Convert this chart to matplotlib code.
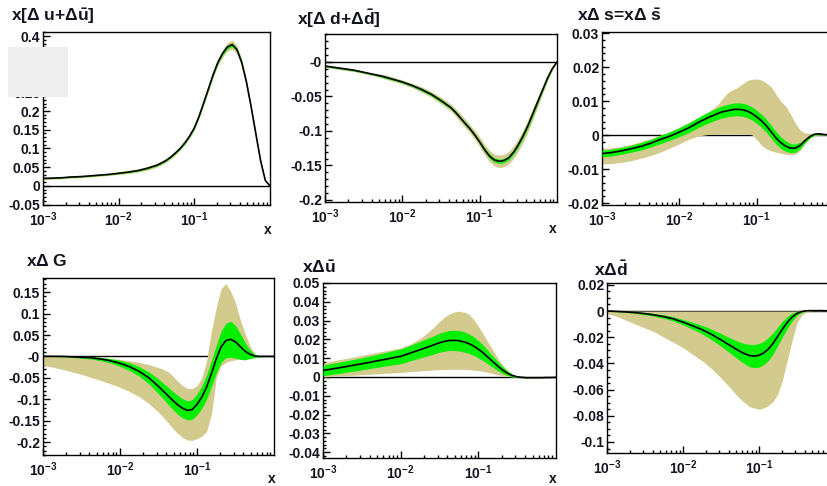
import numpy as np
import matplotlib
matplotlib.use("Agg")
import matplotlib.pyplot as plt
from matplotlib.ticker import FixedLocator, MultipleLocator, LogLocator, NullFormatter
from matplotlib.patches import Rectangle

plt.rcParams['font.family'] = ['Liberation Sans', 'DejaVu Sans']
plt.rcParams['font.weight'] = 'bold'
plt.rcParams['mathtext.fontset'] = 'custom'
plt.rcParams['mathtext.rm'] = 'Liberation Sans:bold'
plt.rcParams['mathtext.it'] = 'Liberation Sans:bold'
plt.rcParams['mathtext.bf'] = 'Liberation Sans:bold'

#======================== data ========================
x = [0.001, 0.00133, 0.00178, 0.00237, 0.00316, 0.00422, 0.00562, 0.0075, 0.01, 0.0133, 0.0178, 0.0237, 0.0316,
     0.0365, 0.0422, 0.0487, 0.0562, 0.0649, 0.075, 0.0866,
     0.1, 0.1155, 0.133, 0.154, 0.178, 0.205, 0.237, 0.274, 0.316, 0.365, 0.422, 0.487, 0.562, 0.649,
     0.75, 0.866, 1.0]

# x(Delta u + Delta ubar): central, green half-width, khaki half-width
c1 = [0.020, 0.021, 0.022, 0.024, 0.025, 0.027, 0.029, 0.031, 0.034, 0.037, 0.041, 0.047, 0.055,
      0.061, 0.068, 0.077, 0.088, 0.100, 0.115, 0.133,
      0.155, 0.186, 0.222, 0.260, 0.298, 0.330, 0.354, 0.371, 0.377, 0.364, 0.330, 0.278, 0.212, 0.140,
      0.068, 0.015, 0.0]
g1 = [0.001, 0.001, 0.001, 0.001, 0.001, 0.001, 0.001, 0.001, 0.0015, 0.0015, 0.002, 0.002, 0.002,
      0.002, 0.002, 0.002, 0.002, 0.002, 0.002, 0.002,
      0.0025, 0.0027, 0.003, 0.003, 0.003, 0.0035, 0.004, 0.0045, 0.005, 0.0045, 0.004, 0.0035, 0.003, 0.0025,
      0.002, 0.001, 0.0]
w1 = [0.003, 0.003, 0.003, 0.003, 0.003, 0.003, 0.003, 0.003, 0.003, 0.004, 0.004, 0.005, 0.005,
      0.005, 0.005, 0.005, 0.005, 0.005, 0.005, 0.0055,
      0.006, 0.0065, 0.007, 0.0075, 0.008, 0.009, 0.010, 0.011, 0.012, 0.011, 0.010, 0.0085, 0.007, 0.0055,
      0.004, 0.002, 0.0]

# x(Delta d + Delta dbar)
c2 = [-0.006, -0.008, -0.010, -0.012, -0.015, -0.018, -0.021, -0.025, -0.029, -0.034, -0.040, -0.047, -0.056,
      -0.061, -0.066, -0.073, -0.081, -0.089, -0.097, -0.106,
      -0.116, -0.127, -0.136, -0.142, -0.144, -0.143, -0.139, -0.131, -0.120, -0.107, -0.092, -0.075, -0.058,
      -0.041, -0.024, -0.010, 0.0]
g2 = [0.001, 0.001, 0.001, 0.001, 0.001, 0.001, 0.0015, 0.0015, 0.0015, 0.0015, 0.002, 0.002, 0.002,
      0.002, 0.002, 0.002, 0.002, 0.002, 0.002, 0.002,
      0.002, 0.0025, 0.003, 0.003, 0.003, 0.003, 0.003, 0.003, 0.003, 0.003, 0.003, 0.003, 0.0025,
      0.002, 0.002, 0.001, 0.0]
w2 = [0.002, 0.002, 0.002, 0.002, 0.002, 0.002, 0.003, 0.003, 0.003, 0.003, 0.004, 0.004, 0.005,
      0.005, 0.005, 0.0055, 0.006, 0.006, 0.006, 0.0065,
      0.007, 0.0075, 0.008, 0.0085, 0.009, 0.009, 0.009, 0.009, 0.009, 0.009, 0.009, 0.008, 0.007,
      0.0055, 0.004, 0.002, 0.0]

# x Delta s = x Delta sbar: central, green half-width, khaki low / high
c3 = [-0.0054, -0.0051, -0.0046, -0.0040, -0.0033, -0.0024, -0.0013, -0.0003, 0.0009, 0.0022, 0.0038,
      0.0052, 0.0064,
      0.0069, 0.0072, 0.0075, 0.0076, 0.0075, 0.0071, 0.0064,
      0.0054, 0.0042, 0.0028, 0.0010, -0.0008, -0.0022, -0.0032, -0.0038, -0.0038, -0.0030, -0.0016,
      -0.0004, 0.0003, 0.0004, 0.0002, 0.0001, 0.0]
g3 = [0.0010, 0.0010, 0.0010, 0.0010, 0.0011, 0.0011, 0.0012, 0.0012, 0.0013, 0.0014, 0.0015, 0.0016, 0.0017,
      0.0018, 0.0018, 0.0019, 0.0019, 0.0019, 0.0019, 0.0019,
      0.0019, 0.0019, 0.0019, 0.0019, 0.0018, 0.0017, 0.0015, 0.0013, 0.0012, 0.0009, 0.0006,
      0.0004, 0.0003, 0.0002, 0.0001, 0.0, 0.0]
lo3 = [-0.0085, -0.0083, -0.0080, -0.0075, -0.0068, -0.0060, -0.0050, -0.0038, -0.0025, -0.0012, -0.0002,
       0.0002, 0.0003,
       0.0003, 0.0004, 0.0004, 0.0005, 0.0004, 0.0003, 0.0001,
       -0.0012, -0.0030, -0.0040, -0.0046, -0.0050, -0.0053, -0.0056, -0.0057, -0.0056, -0.0045, -0.0025,
       -0.0010, -0.0001, 0.0, 0.0, 0.0, 0.0]
hi3 = [-0.0040, -0.0037, -0.0033, -0.0027, -0.0019, -0.0010, 0.0000, 0.0011, 0.0024, 0.0038, 0.0052,
       0.0068, 0.0090,
       0.0108, 0.0125, 0.0133, 0.0140, 0.0150, 0.0160, 0.0164,
       0.0165, 0.0162, 0.0154, 0.0142, 0.0120, 0.0100, 0.0085, 0.0062, 0.0035, 0.0015, 0.0006,
       0.0006, 0.0006, 0.0005, 0.0003, 0.0001, 0.0]

# x Delta G
c4 = [0.0, 0.0, 0.0, -0.001, -0.002, -0.003, -0.006, -0.010, -0.016, -0.024, -0.035, -0.050, -0.070,
      -0.081, -0.092, -0.103, -0.113, -0.121, -0.126, -0.124,
      -0.112, -0.095, -0.072, -0.040, -0.006, 0.022, 0.037, 0.040, 0.034, 0.023, 0.012,
      0.005, 0.001, 0.0, 0.0, 0.0, 0.0]
g4 = [0.0, 0.0, 0.001, 0.001, 0.002, 0.003, 0.004, 0.005, 0.007, 0.009, 0.011, 0.014, 0.017,
      0.018, 0.020, 0.021, 0.022, 0.022, 0.022, 0.023,
      0.024, 0.026, 0.028, 0.030, 0.032, 0.036, 0.040, 0.042, 0.038, 0.030, 0.020,
      0.010, 0.004, 0.001, 0.0, 0.0, 0.0]
lo4 = [-0.020, -0.025, -0.030, -0.036, -0.042, -0.049, -0.056, -0.064, -0.072, -0.082, -0.094, -0.110, -0.130,
       -0.142, -0.155, -0.168, -0.180, -0.189, -0.195, -0.196,
       -0.192, -0.186, -0.175, -0.135, -0.050, -0.022, -0.014, -0.010, -0.008, -0.005, -0.003,
       -0.001, 0.0, 0.0, 0.0, 0.0, 0.0]
hi4 = [0.0, 0.0, 0.0, 0.0, 0.0, 0.0, -0.002, -0.005, -0.007, -0.010, -0.014, -0.019, -0.026,
       -0.030, -0.036, -0.046, -0.058, -0.068, -0.075, -0.075,
       -0.068, -0.050, -0.010, 0.060, 0.115, 0.158, 0.170, 0.152, 0.125, 0.085, 0.053,
       0.025, 0.006, 0.001, 0.0, 0.0, 0.0]

# x Delta ubar
c5 = [0.0035, 0.0043, 0.0052, 0.0061, 0.0070, 0.0080, 0.0090, 0.0100, 0.0110, 0.0127, 0.0145, 0.0163, 0.0182,
      0.0189, 0.0194, 0.0195, 0.0193, 0.0187, 0.0178, 0.0165,
      0.0148, 0.0128, 0.0105, 0.0081, 0.0058, 0.0037, 0.0020, 0.0008, 0.0001, -0.0002, -0.0004,
      -0.0004, -0.0004, -0.0004, -0.0003, -0.0003, -0.0002]
g5 = [0.0028, 0.0029, 0.0030, 0.0031, 0.0032, 0.0033, 0.0035, 0.0037, 0.0039, 0.0041, 0.0044, 0.0047, 0.0050,
      0.0052, 0.0053, 0.0054, 0.0054, 0.0054, 0.0052, 0.0049,
      0.0046, 0.0041, 0.0036, 0.0030, 0.0024, 0.0018, 0.0012, 0.0007, 0.0004, 0.0002, 0.0001,
      0.0, 0.0, 0.0, 0.0, 0.0, 0.0]
lo5 = [0.0000, 0.0003, 0.0006, 0.0009, 0.0012, 0.0015, 0.0018, 0.0021, 0.0024, 0.0028, 0.0032, 0.0036, 0.0039,
       0.0040, 0.0041, 0.0041, 0.0041, 0.0040, 0.0039, 0.0037,
       0.0034, 0.0030, 0.0024, 0.0018, 0.0012, 0.0007, 0.0003, 0.0000, -0.0002, -0.0004, -0.0005,
       -0.0005, -0.0005, -0.0005, -0.0004, -0.0004, -0.0003]
hi5 = [0.0075, 0.0085, 0.0095, 0.0105, 0.0115, 0.0125, 0.0135, 0.0145, 0.0155, 0.0175, 0.0205, 0.0245, 0.0295,
       0.0318, 0.0335, 0.0346, 0.0350, 0.0346, 0.0335, 0.0307,
       0.0270, 0.0228, 0.0185, 0.0142, 0.0100, 0.0065, 0.0035, 0.0015, 0.0005, 0.0, 0.0,
       0.0, 0.0, 0.0, 0.0, 0.0, 0.0]

# x Delta dbar
c6 = [0.0, -0.0003, -0.0007, -0.0012, -0.0020, -0.0030, -0.0043, -0.0060, -0.0085, -0.0112, -0.0142,
      -0.0178, -0.0220,
      -0.0243, -0.0265, -0.0287, -0.0308, -0.0326, -0.0340, -0.0344,
      -0.0338, -0.0320, -0.0290, -0.0245, -0.0190, -0.0135, -0.0085, -0.0045, -0.0018, -0.0004, 0.0002,
      0.0003, 0.0003, 0.0003, 0.0002, 0.0002, 0.0001]
g6 = [0.0, 0.0002, 0.0004, 0.0006, 0.0008, 0.0010, 0.0013, 0.0016, 0.0020, 0.0026, 0.0032, 0.0040, 0.0048,
      0.0053, 0.0058, 0.0064, 0.0070, 0.0077, 0.0085, 0.0088,
      0.0090, 0.0089, 0.0087, 0.0080, 0.0070, 0.0058, 0.0045, 0.0030, 0.0015, 0.0006, 0.0002,
      0.0, 0.0, 0.0, 0.0, 0.0, 0.0]
lo6 = [-0.002, -0.004, -0.007, -0.010, -0.013, -0.016, -0.020, -0.024, -0.028, -0.033, -0.038, -0.044, -0.051,
       -0.055, -0.059, -0.063, -0.067, -0.070, -0.073, -0.074,
       -0.075, -0.074, -0.072, -0.069, -0.063, -0.052, -0.037, -0.022, -0.009, -0.003, -0.001,
       0.0, 0.0, 0.0, 0.0, 0.0, 0.0]
hi6 = [0.0, 0.0, 0.0, 0.0, 0.0, 0.0, 0.0, 0.0, 0.0, 0.0, 0.0, 0.0, 0.0,
       0.0, 0.0, 0.0, 0.0, 0.0, 0.0, 0.0,
       0.0, 0.0, 0.0, 0.0, 0.0, 0.0, 0.0, 0.0, 0.0, 0.0003, 0.0005,
       0.0005, 0.0005, 0.0005, 0.0004, 0.0003, 0.0]

titles = [r"x[$\Delta$ u+$\Delta\bar{u}$]", r"x[$\Delta$ d+$\Delta\bar{d}$]",
          r"x$\Delta$ s=x$\Delta$ $\bar{s}$", r"x$\Delta$ G", r"x$\Delta\bar{u}$", r"x$\Delta\bar{d}$"]

yt1 = [-0.05, 0, 0.05, 0.1, 0.15, 0.2, 0.25, 0.3, 0.35, 0.4]
yl1 = ["-0.05", "0", "0.05", "0.1", "0.15", "0.2", "0.25", "0.3", "0.35", "0.4"]
yt2 = [-0.2, -0.15, -0.1, -0.05, 0]
yl2 = ["-0.2", "-0.15", "-0.1", "-0.05", "-0"]
yt3 = [-0.02, -0.01, 0, 0.01, 0.02, 0.03]
yl3 = ["-0.02", "-0.01", "0", "0.01", "0.02", "0.03"]
yt4 = [-0.2, -0.15, -0.1, -0.05, 0, 0.05, 0.1, 0.15]
yl4 = ["-0.2", "-0.15", "-0.1", "-0.05", "-0", "0.05", "0.1", "0.15"]
yt5 = [-0.04, -0.03, -0.02, -0.01, 0, 0.01, 0.02, 0.03, 0.04, 0.05]
yl5 = ["-0.04", "-0.03", "-0.02", "-0.01", "0", "0.01", "0.02", "0.03", "0.04", "0.05"]
yt6 = [-0.1, -0.08, -0.06, -0.04, -0.02, 0, 0.02]
yl6 = ["-0.1", "-0.08", "-0.06", "-0.04", "-0.02", "0", "0.02"]

xt = [1e-3, 1e-2, 1e-1]
xl = [r"$10^{-3}$", r"$10^{-2}$", r"$10^{-1}$"]

KHAKI = "#d3cb8d"
GREEN = "#00f000"
TXT = "#141420"

#======================== figure ========================
W, H = 827, 486
fig = plt.figure(figsize=(W / 100, H / 100), dpi=100)


def panel(box, c, g, lo, hi, ylim, yt, yl, minor, title, tpos, xpos=None):
    left, top, right, bottom = box
    ax = fig.add_axes([left / W, 1 - bottom / H, (right - left) / W, (bottom - top) / H])
    c = np.array(c)
    g = np.array(g)
    ax.set_xscale('log')
    ax.set_xlim(1e-3, 1)
    ax.set_ylim(*ylim)
    ax.axhline(0, color='black', lw=1.0, zorder=1)
    ax.fill_between(x, lo, hi, color=KHAKI, lw=0, zorder=2)
    ax.fill_between(x, c - g, c + g, color=GREEN, lw=0, zorder=3)
    ax.plot(x, c, color='black', lw=1.2, zorder=4)

    ax.xaxis.set_major_locator(FixedLocator(xt))
    ax.set_xticklabels(xl)
    ax.xaxis.set_minor_locator(LogLocator(base=10, subs=np.arange(2, 10)))
    ax.xaxis.set_minor_formatter(NullFormatter())
    ax.yaxis.set_major_locator(FixedLocator(yt))
    ax.set_yticklabels(yl)
    ax.yaxis.set_minor_locator(MultipleLocator(minor))
    ax.tick_params(which='both', direction='in', top=False, right=False, colors='black',
                   labelcolor=TXT, labelsize=10, width=1.0)
    ax.tick_params(which='major', length=5)
    ax.tick_params(which='minor', length=2.5)
    ax.tick_params(axis='y', pad=2)
    ax.tick_params(axis='x', pad=4)
    for s in ax.spines.values():
        s.set_linewidth(1.0)
        s.set_color('black')
    fig.text(tpos[0] / W, 1 - tpos[1] / H, title, fontsize=12.5, color=TXT, va='top', ha='left')
    if xpos is not None:
        fig.text(xpos[0] / W, 1 - xpos[1] / H, "x", fontsize=10, color=TXT, va='center', ha='center')
    return ax


c1a, w1a = np.array(c1), np.array(w1)
c2a, w2a = np.array(c2), np.array(w2)

panel((43, 32, 270, 205), c1, g1, c1a - w1a, c1a + w1a, (-0.0507, 0.4107), yt1, yl1, 0.01,
      titles[0], (11, 6), (268, 230))
panel((325, 34, 557, 202), c2, g2, c2a - w2a, c2a + w2a, (-0.203, 0.0405), yt2, yl2, 0.01,
      titles[1], (297, 7), (553, 229))
panel((602, 32, 834, 205), c3, g3, lo3, hi3, (-0.0205, 0.0303), yt3, yl3, 0.002,
      titles[2], (577, 7))
panel((43, 278, 274, 455), c4, g4, lo4, hi4, (-0.23, 0.183), yt4, yl4, 0.01,
      titles[3], (26, 253), (272, 479))
panel((323, 283, 556, 458), c5, g5, lo5, hi5, (-0.0431, 0.05), yt5, yl5, 0.002,
      titles[4], (302, 259), (553, 479))
panel((607, 283, 835, 453), c6, g6, lo6, hi6, (-0.1084, 0.0214), yt6, yl6, 0.005,
      titles[5], (594, 259))

# light grey patch over part of the first panel's labels
fig.add_artist(Rectangle((8 / W, 1 - 97 / H), 60 / W, 50 / H, transform=fig.transFigure,
                         facecolor='#efefef', edgecolor='none', zorder=10))

fig.savefig("out.png", dpi=100)
